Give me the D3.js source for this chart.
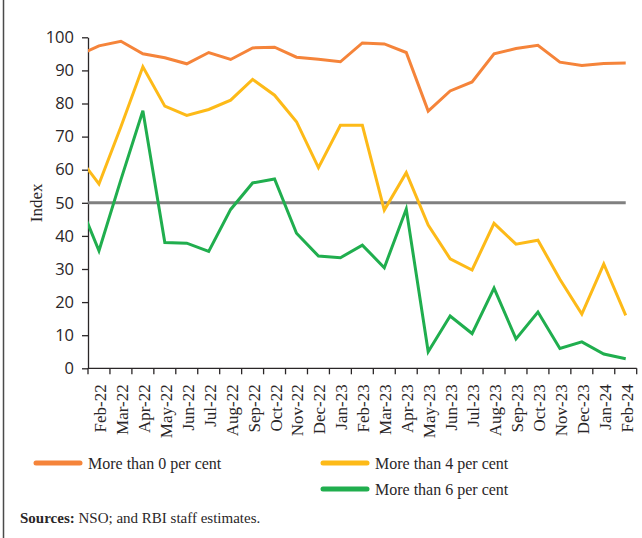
<!DOCTYPE html>
<html>
<head>
<meta charset="utf-8">
<script src="https://cdn.jsdelivr.net/npm/d3@7"></script>
<style>
  html, body { margin: 0; padding: 0; background: #fff; }
  svg { display: block; }
</style>
</head>
<body>
<svg id="chart" width="642" height="538"></svg>
<script>
// Months (Jan-22 only feeds the first segment, which is clipped at the axis)
const months = ["Jan-22","Feb-22","Mar-22","Apr-22","May-22","Jun-22","Jul-22","Aug-22","Sep-22","Oct-22","Nov-22","Dec-22",
                "Jan-23","Feb-23","Mar-23","Apr-23","May-23","Jun-23","Jul-23","Aug-23","Sep-23","Oct-23","Nov-23","Dec-23",
                "Jan-24","Feb-24"];
const shownMonths = months.slice(1);

// Diffusion index values
const above0 = [94.4, 97.4, 98.8, 95.0, 93.8, 92.0, 95.4, 93.3, 96.8, 97.0, 94.0, 93.4,
                92.6, 98.3, 98.0, 95.4, 77.7, 83.8, 86.5, 95.0, 96.6, 97.6, 92.5, 91.5, 92.1, 92.2];
const above4 = [64.5, 55.7, 73.0, 91.1, 79.2, 76.4, 78.2, 81.0, 87.3, 82.5, 74.5, 60.6,
                73.4, 73.4, 47.8, 59.1, 43.3, 33.1, 29.7, 43.8, 37.5, 38.7, 26.9, 16.4, 31.5, 16.0];
const above6 = [51.7, 35.5, 57.0, 77.8, 38.0, 37.8, 35.3, 48.0, 56.0, 57.2, 40.8, 33.9,
                33.4, 37.2, 30.4, 48.1, 5.0, 15.8, 10.5, 24.2, 8.9, 17.0, 6.0, 8.0, 4.3, 2.9];

const yTicks = [0, 10, 20, 30, 40, 50, 60, 70, 80, 90, 100];
const threshold = 50;

const seriesNames = ["More than 0 per cent", "More than 4 per cent", "More than 6 per cent"];
const seriesColors = ["#F5843A", "#FDBA18", "#20AE4E"];
const seriesValues = [above0, above4, above6];

const serif = "'Liberation Serif', 'DejaVu Serif', serif";
const sans = "'Open Sans', 'Noto Sans', sans-serif";
const ink = "#2a2627";

const svg = d3.select("#chart");

const plot = { left: 88, right: 636.7, top: 37.3, bottom: 368.3 };
const step = (plot.right - plot.left) / shownMonths.length;

const x = d3.scaleBand()
  .domain(months)
  .range([plot.left - step, plot.right])
  .padding(0);
const xc = m => x(m) + x.bandwidth() / 2;

const y = d3.scaleLinear().domain([0, 100]).range([plot.bottom, plot.top]);

// Frame line on the left edge
svg.append("line")
  .attr("x1", 3.5).attr("x2", 3.5).attr("y1", 0).attr("y2", 538)
  .attr("stroke", "#4a4a4a").attr("stroke-width", 1.5);

// Clip region for the plotting area
svg.append("defs").append("clipPath").attr("id", "plotClip")
  .append("rect")
  .attr("x", plot.left).attr("y", 0)
  .attr("width", plot.right - plot.left).attr("height", plot.bottom + 5);

// Y axis
const yAxis = svg.append("g")
  .attr("transform", `translate(${plot.left},0)`)
  .call(d3.axisLeft(y).tickValues(yTicks).tickSize(6).tickSizeOuter(0).tickPadding(8));
yAxis.select(".domain").attr("stroke", ink).attr("stroke-width", 1.3);
yAxis.selectAll(".tick line").attr("stroke", ink).attr("stroke-width", 1.3);
yAxis.selectAll("text").attr("font-family", sans).attr("font-size", 16.5).attr("fill", ink);

// X axis: tick marks at category boundaries, labels rotated
const xAxis = svg.append("g").attr("transform", `translate(0,${plot.bottom})`);
xAxis.append("line")
  .attr("x1", plot.left).attr("x2", plot.right)
  .attr("stroke", ink).attr("stroke-width", 1.3);
const boundaries = shownMonths.map(m => x(m)).concat([plot.right]);
xAxis.selectAll("line.tick")
  .data(boundaries)
  .join("line")
  .attr("class", "tick")
  .attr("x1", d => d).attr("x2", d => d)
  .attr("y1", 0).attr("y2", 6)
  .attr("stroke", ink).attr("stroke-width", 1.3);
xAxis.selectAll("text")
  .data(shownMonths)
  .join("text")
  .attr("transform", d => `translate(${xc(d) + 1},16) rotate(-90)`)
  .attr("text-anchor", "end")
  .attr("dy", "0.35em")
  .attr("font-family", serif)
  .attr("font-size", 17)
  .attr("fill", ink)
  .text(d => d);

// Y axis title
svg.append("text")
  .attr("transform", `translate(42,${y(50)}) rotate(-90)`)
  .attr("text-anchor", "middle")
  .attr("font-family", serif)
  .attr("font-size", 17)
  .attr("fill", ink)
  .text("Index");

// 50 threshold line
svg.append("line")
  .attr("x1", plot.left).attr("x2", xc(months[months.length - 1]))
  .attr("y1", y(threshold)).attr("y2", y(threshold))
  .attr("stroke", "#808080").attr("stroke-width", 3);

// Series lines
const line = d3.line()
  .x((d, i) => xc(months[i]))
  .y(d => y(d));

const linesG = svg.append("g").attr("clip-path", "url(#plotClip)");
linesG.selectAll("path")
  .data(seriesValues)
  .join("path")
  .attr("d", d => line(d))
  .attr("fill", "none")
  .attr("stroke", (d, i) => seriesColors[i])
  .attr("stroke-width", 3)
  .attr("stroke-linejoin", "miter");

// Legend
const legendItems = [
  { x: 36, y: 463, i: 0 },
  { x: 323, y: 463, i: 1 },
  { x: 323, y: 489, i: 2 }
];
const legend = svg.append("g");
legendItems.forEach(it => {
  legend.append("line")
    .attr("x1", it.x).attr("x2", it.x + 44)
    .attr("y1", it.y).attr("y2", it.y)
    .attr("stroke", seriesColors[it.i]).attr("stroke-width", 5)
    .attr("stroke-linecap", "round");
  legend.append("text")
    .attr("x", it.x + 52).attr("y", it.y)
    .attr("dy", "0.35em")
    .attr("font-family", serif)
    .attr("font-size", 16)
    .attr("fill", ink)
    .text(seriesNames[it.i]);
});

// Source note
const note = svg.append("text")
  .attr("x", 20).attr("y", 523)
  .attr("font-family", serif)
  .attr("font-size", 15)
  .attr("fill", ink);
note.append("tspan").attr("font-weight", "bold").text("Sources:");
note.append("tspan").text(" NSO; and RBI staff estimates.");
</script>
</body>
</html>
